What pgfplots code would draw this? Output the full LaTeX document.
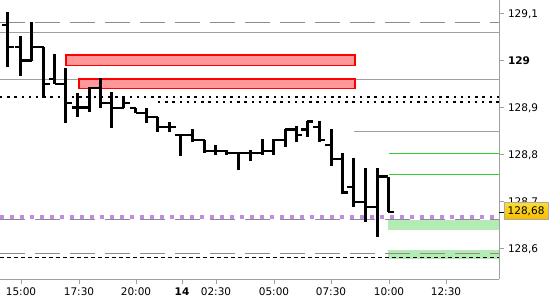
\documentclass[border=0pt]{standalone}
\usepackage{pgfplots}
\usepackage{pgfplotstable}
\pgfplotsset{compat=1.18}
\usepackage{fontspec}
\setmainfont{DejaVu Sans}
\definecolor{lgray}{RGB}{160,160,160}
\definecolor{dgray}{RGB}{140,140,140}
\definecolor{rfill}{RGB}{255,153,153}
\definecolor{gfill}{RGB}{180,235,180}
\definecolor{gline}{RGB}{50,205,50}
\definecolor{purp}{RGB}{192,140,226}
\definecolor{goldtop}{RGB}{255,222,50}
\definecolor{goldbot}{RGB}{245,188,0}

% x, open, high, low, close
\pgfplotstableread{
x O H L C
8 129.076 129.104 128.987 129.029
21 129.029 129.053 128.967 129.001
32 129.001 129.082 128.999 129.029
44 129.029 129.029 128.921 128.950
55 128.961 129.014 128.950 128.950
66 128.950 128.984 128.867 128.910
78 128.901 128.931 128.880 128.901
90 128.901 128.944 128.891 128.942
101 128.942 128.963 128.899 128.910
112 128.910 128.933 128.857 128.899
124 128.899 128.921 128.899 128.910
136 128.899 128.899 128.889 128.889
147 128.889 128.899 128.867 128.880
158 128.880 128.880 128.848 128.859
170 128.859 128.870 128.848 128.859
181 128.842 128.842 128.797 128.842
193 128.842 128.855 128.827 128.831
205 128.831 128.831 128.804 128.808
216 128.808 128.821 128.799 128.808
227 128.808 128.810 128.799 128.804
239 128.804 128.804 128.767 128.804
250 128.804 128.810 128.787 128.804
262 128.804 128.833 128.799 128.808
273 128.808 128.833 128.799 128.831
285 128.831 128.855 128.816 128.853
296 128.853 128.861 128.827 128.842
307 128.853 128.872 128.838 128.870
319 128.859 128.872 128.827 128.831
331 128.821 128.855 128.776 128.791
342 128.791 128.804 128.716 128.719
353 128.731 128.793 128.689 128.699
365 128.699 128.772 128.657 128.689
377 128.689 128.772 128.625 128.753
388 128.753 128.753 128.678 128.678
}\bars

% high-low segments of the same bars
\pgfplotstableread{
x y
8 129.104
8 128.987
nan nan
21 129.053
21 128.967
nan nan
32 129.082
32 128.999
nan nan
44 129.029
44 128.921
nan nan
55 129.014
55 128.950
nan nan
66 128.984
66 128.867
nan nan
78 128.931
78 128.880
nan nan
90 128.944
90 128.891
nan nan
101 128.963
101 128.899
nan nan
112 128.933
112 128.857
nan nan
124 128.921
124 128.899
nan nan
136 128.899
136 128.889
nan nan
147 128.899
147 128.867
nan nan
158 128.880
158 128.848
nan nan
170 128.870
170 128.848
nan nan
181 128.842
181 128.797
nan nan
193 128.855
193 128.827
nan nan
205 128.831
205 128.804
nan nan
216 128.821
216 128.799
nan nan
227 128.810
227 128.799
nan nan
239 128.804
239 128.767
nan nan
250 128.810
250 128.787
nan nan
262 128.833
262 128.799
nan nan
273 128.833
273 128.799
nan nan
285 128.855
285 128.816
nan nan
296 128.861
296 128.827
nan nan
307 128.872
307 128.838
nan nan
319 128.872
319 128.827
nan nan
331 128.855
331 128.776
nan nan
342 128.804
342 128.716
nan nan
353 128.793
353 128.689
nan nan
365 128.772
365 128.657
nan nan
377 128.772
377 128.625
nan nan
388 128.753
388 128.678
}\hl

\begin{document}
\begin{tikzpicture}
\begin{axis}[
  at={(0,0)}, anchor=south west,
  width=499pt, height=279.5pt, scale only axis,
  xmin=0, xmax=499, ymin=128.5345, ymax=129.1291,
  axis x line*=bottom, axis y line*=right,
  axis line style={draw=lgray, line width=0.8pt},
  tick align=outside,
  major tick length=4.5pt,
  tick style={draw=lgray, line width=0.8pt},
  xtick={21,79,136,182,216,274,331,389,446},
  xticklabels={15:00,17:30,20:00,\textbf{14},02:30,05:00,07:30,10:00,12:30},
  ytick={128.6,128.7,128.8,128.9,129,129.1},
  yticklabels={{128,6},{128,7},{128,8},{128,9},\textbf{129},{129,1}},
  tick label style={font=\fontsize{10.5}{12}\selectfont, text=black},
  yticklabel style={anchor=base west, yshift=-3.9pt, xshift=1pt},
  unbounded coords=jump,
]
% reference lines
\addplot[dgray, line width=0.9pt, dash pattern=on 25pt off 10pt] coordinates {(0,129.082) (499,129.082)};
\addplot[lgray, line width=0.9pt] coordinates {(0,129.061) (499,129.061)};
\addplot[fill=rfill, draw=red, line width=1.2pt] coordinates {(66,129.012) (355,129.012) (355,128.989) (66,128.989)} -- cycle;
\addplot[lgray, line width=0.9pt] coordinates {(0,128.961) (499,128.961)};
\addplot[fill=rfill, draw=red, line width=1.2pt] coordinates {(79,128.961) (355,128.961) (355,128.940) (79,128.940)} -- cycle;
\addplot[black, line width=2.4pt, dash pattern=on 2.4pt off 4.8pt] coordinates {(0,128.923) (499,128.923)};
\addplot[black, line width=2.4pt, dash pattern=on 2.4pt off 4.8pt] coordinates {(158,128.912) (499,128.912)};
\addplot[lgray, line width=0.9pt] coordinates {(354,128.850) (499,128.850)};
\addplot[gline, line width=0.9pt] coordinates {(389,128.802) (499,128.802)};
\addplot[gline, line width=0.9pt] coordinates {(389,128.759) (499,128.759)};
\addplot[dgray, line width=0.9pt, dash pattern=on 25pt off 10pt] coordinates {(0,128.663) (499,128.663)};
\addplot[purp, line width=3.6pt, dash pattern=on 4pt off 6pt] coordinates {(0,128.668) (499,128.668)};
\addplot[fill=gfill, draw=none] coordinates {(388,128.661) (499,128.661) (499,128.640) (388,128.640)} -- cycle;
\addplot[fill=gfill, draw=none] coordinates {(388,128.598) (499,128.598) (499,128.579) (388,128.579)} -- cycle;
\addplot[dgray, line width=0.9pt, dash pattern=on 25pt off 10pt] coordinates {(0,128.590) (499,128.590)};
\addplot[black, line width=0.9pt, dash pattern=on 4pt off 3pt] coordinates {(0,128.582) (499,128.582)};
% OHLC bars: high-low ranges
\addplot[black, line width=3pt, line cap=butt, mark=none] table[x=x, y=y] {\hl};
% open ticks (left)
\addplot[draw=none, mark=none, forget plot,
  error bars/.cd, x dir=minus, x fixed=5.8, error mark=none,
  error bar style={black, line width=2.6pt, line cap=butt}]
  table[x=x, y=O] {\bars};
% close ticks (right)
\addplot[draw=none, mark=none, forget plot,
  error bars/.cd, x dir=plus, x fixed=5.8, error mark=none,
  error bar style={black, line width=2.6pt, line cap=butt}]
  table[x=x, y=C] {\bars};
\coordinate (lbl) at (axis cs:504,128.678);
\end{axis}
\draw[black, line width=1pt] (lbl) -- ++(-5pt,0);
\node[draw={rgb,255:red,170;green,170;blue,170}, top color=goldtop, bottom color=goldbot,
      anchor=west, inner xsep=3.5pt, inner ysep=0pt, minimum height=17.5pt,
      text height=7.7pt, text depth=1.2pt, yshift=1.2pt,
      font=\fontsize{10.5}{12}\selectfont] at (lbl) {128,68};
\pgfresetboundingbox
\path[use as bounding box] (0,-20.5pt) rectangle (550pt,279.5pt);
\end{tikzpicture}
\end{document}
